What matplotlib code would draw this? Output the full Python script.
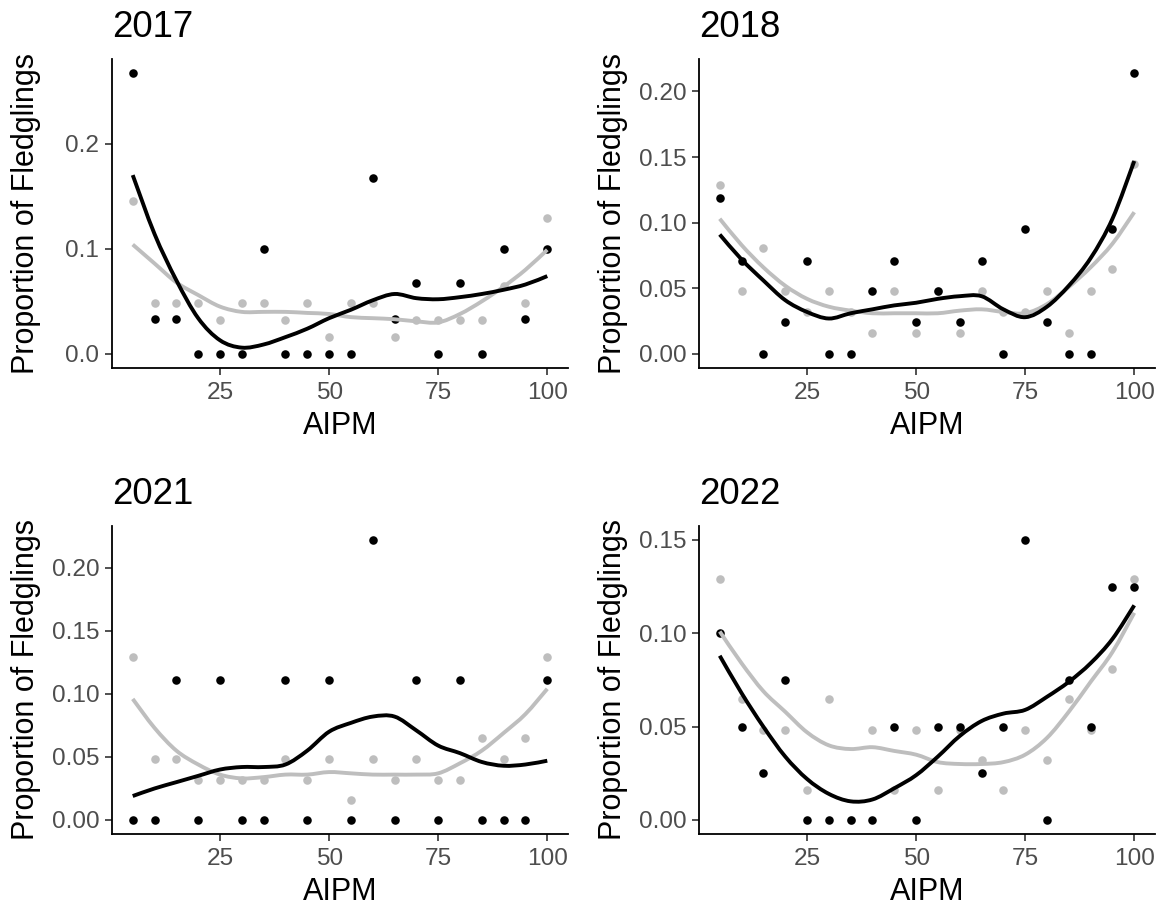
import matplotlib
matplotlib.use('Agg')
import matplotlib.pyplot as plt
from matplotlib.path import Path
from matplotlib.patches import PathPatch
import numpy as np

plt.rcParams['font.family'] = ['Liberation Sans', 'DejaVu Sans']

# AIPM values (x axis), same for every panel
aipm = [5, 10, 15, 20, 25, 30, 35, 40, 45, 50, 55, 60, 65, 70, 75, 80, 85, 90, 95, 100]

years = ['2017', '2018', '2021', '2022']

# observed proportions (black points)
obs_2017 = [0.267, 0.033, 0.033, 0, 0, 0, 0.100, 0, 0, 0, 0, 0.167, 0.033, 0.067, 0, 0.067, 0, 0.100, 0.033, 0.100]
obs_2018 = [0.119, 0.071, 0, 0.024, 0.071, 0, 0, 0.048, 0.071, 0.024, 0.048, 0.024, 0.071, 0, 0.095, 0.024, 0, 0, 0.095, 0.214]
obs_2021 = [0, 0, 0.111, 0, 0.111, 0, 0, 0.111, 0, 0.111, 0, 0.222, 0, 0.111, 0, 0.111, 0, 0, 0, 0.111]
obs_2022 = [0.100, 0.050, 0.025, 0.075, 0, 0, 0, 0, 0.050, 0, 0.050, 0.050, 0.025, 0.050, 0.150, 0, 0.075, 0.050, 0.125, 0.125]

# reference proportions (grey points)
ref_2017 = [0.145, 0.048, 0.048, 0.048, 0.032, 0.048, 0.048, 0.032, 0.048, 0.016, 0.048, 0.048, 0.016, 0.032, 0.032, 0.032, 0.032, 0.065, 0.048, 0.129]
ref_2018 = [0.129, 0.048, 0.081, 0.048, 0.032, 0.048, 0.032, 0.016, 0.048, 0.016, 0.048, 0.016, 0.048, 0.032, 0.032, 0.048, 0.016, 0.048, 0.065, 0.145]
ref_2021 = [0.129, 0.048, 0.048, 0.032, 0.032, 0.032, 0.032, 0.048, 0.032, 0.048, 0.016, 0.048, 0.032, 0.048, 0.032, 0.032, 0.065, 0.048, 0.065, 0.129]
ref_2022 = [0.129, 0.065, 0.048, 0.048, 0.016, 0.065, 0, 0.048, 0.016, 0.048, 0.016, 0.048, 0.032, 0.016, 0.048, 0.032, 0.065, 0.048, 0.081, 0.129]

# smoothed curves
fit_obs_2017 = [0.170, 0.114, 0.070, 0.034, 0.013, 0.006, 0.009, 0.016, 0.024, 0.034, 0.042, 0.051, 0.057, 0.053, 0.052, 0.054, 0.057, 0.061, 0.066, 0.074]
fit_ref_2017 = [0.104, 0.086, 0.068, 0.056, 0.045, 0.040, 0.040, 0.040, 0.039, 0.038, 0.035, 0.034, 0.033, 0.031, 0.030, 0.038, 0.050, 0.064, 0.080, 0.099]
fit_obs_2018 = [0.091, 0.072, 0.056, 0.041, 0.032, 0.027, 0.031, 0.034, 0.037, 0.039, 0.042, 0.044, 0.044, 0.034, 0.028, 0.036, 0.052, 0.073, 0.103, 0.147]
fit_ref_2018 = [0.103, 0.083, 0.066, 0.052, 0.042, 0.036, 0.033, 0.031, 0.031, 0.031, 0.031, 0.033, 0.034, 0.032, 0.031, 0.038, 0.051, 0.066, 0.084, 0.108]
fit_obs_2021 = [0.019, 0.025, 0.030, 0.035, 0.040, 0.042, 0.042, 0.044, 0.055, 0.070, 0.077, 0.082, 0.082, 0.071, 0.059, 0.053, 0.046, 0.043, 0.044, 0.047]
fit_ref_2021 = [0.096, 0.073, 0.055, 0.044, 0.036, 0.033, 0.034, 0.036, 0.036, 0.038, 0.037, 0.036, 0.036, 0.036, 0.037, 0.045, 0.055, 0.069, 0.084, 0.104]
fit_obs_2022 = [0.088, 0.068, 0.050, 0.034, 0.022, 0.014, 0.010, 0.011, 0.017, 0.024, 0.034, 0.045, 0.053, 0.057, 0.059, 0.066, 0.074, 0.084, 0.097, 0.115]
fit_ref_2022 = [0.101, 0.084, 0.069, 0.058, 0.047, 0.040, 0.038, 0.039, 0.037, 0.035, 0.031, 0.030, 0.030, 0.031, 0.035, 0.044, 0.058, 0.074, 0.090, 0.111]

obs = [obs_2017, obs_2018, obs_2021, obs_2022]
ref = [ref_2017, ref_2018, ref_2021, ref_2022]
fit_obs = [fit_obs_2017, fit_obs_2018, fit_obs_2021, fit_obs_2022]
fit_ref = [fit_ref_2017, fit_ref_2018, fit_ref_2021, fit_ref_2022]

yticks = [[0, 0.1, 0.2], [0, 0.05, 0.10, 0.15, 0.20], [0, 0.05, 0.10, 0.15, 0.20], [0, 0.05, 0.10, 0.15]]
ytick_labels = [['0.0', '0.1', '0.2'],
                ['0.00', '0.05', '0.10', '0.15', '0.20'],
                ['0.00', '0.05', '0.10', '0.15', '0.20'],
                ['0.00', '0.05', '0.10', '0.15']]


def smooth_line(ax, xs, ys, **kw):
    # draw the read-off curve as a smooth bezier path (catmull-rom style)
    xs = np.asarray(xs, float)
    ys = np.asarray(ys, float)
    verts = [(xs[0], ys[0])]
    codes = [Path.MOVETO]
    n = len(xs)
    for k in range(n - 1):
        p0 = (xs[max(k - 1, 0)], ys[max(k - 1, 0)])
        p1 = (xs[k], ys[k])
        p2 = (xs[k + 1], ys[k + 1])
        p3 = (xs[min(k + 2, n - 1)], ys[min(k + 2, n - 1)])
        c1 = (p1[0] + (p2[0] - p0[0]) / 6, p1[1] + (p2[1] - p0[1]) / 6)
        c2 = (p2[0] - (p3[0] - p1[0]) / 6, p2[1] - (p3[1] - p1[1]) / 6)
        verts += [c1, c2, p2]
        codes += [Path.CURVE4] * 3
    ax.add_patch(PathPatch(Path(verts, codes), fill=False, **kw))


W, H = 1163, 911
fig = plt.figure(figsize=(W / 100, H / 100), dpi=100)

# axes boxes in pixels: left, top, right, bottom
boxes = [(112, 59, 568, 368), (699, 59, 1155, 368),
         (112, 526, 568, 834), (699, 526, 1155, 834)]

grey = '#bebebe'
tick_col = '#4d4d4d'

for i, yr in enumerate(years):
    l, t, r, b = boxes[i]
    ax = fig.add_axes([l / W, (H - b) / H, (r - l) / W, (b - t) / H])

    ax.scatter(aipm, ref[i], s=38, color=grey, linewidths=0, zorder=2)
    ax.scatter(aipm, obs[i], s=38, color='black', linewidths=0, zorder=3)
    smooth_line(ax, aipm, fit_ref[i], edgecolor=grey, lw=2.8, zorder=4, capstyle='butt')
    smooth_line(ax, aipm, fit_obs[i], edgecolor='black', lw=2.8, zorder=5, capstyle='butt')

    ymax = max(obs[i] + ref[i])
    ax.set_ylim(-0.05 * ymax, 1.05 * ymax)
    ax.set_xlim(0.25, 104.75)
    ax.set_xticks([25, 50, 75, 100])
    ax.set_yticks(yticks[i])
    ax.set_yticklabels(ytick_labels[i])

    for side in ['top', 'right']:
        ax.spines[side].set_visible(False)
    for side in ['left', 'bottom']:
        ax.spines[side].set_linewidth(1.3)
    ax.tick_params(axis='both', length=5, width=1.2, color='#333333',
                   labelsize=17.6, labelcolor=tick_col)
    ax.tick_params(axis='x', pad=5)
    ax.tick_params(axis='y', pad=4)

    ax.set_title(yr, loc='left', fontsize=26.4, pad=16)
    ax.set_xlabel('AIPM', fontsize=22, labelpad=5)
    ax.set_ylabel('Proportion of Fledglings', fontsize=22)
    ax.yaxis.set_label_coords(-0.155, 0.5)

fig.savefig('out.png', dpi=100)
